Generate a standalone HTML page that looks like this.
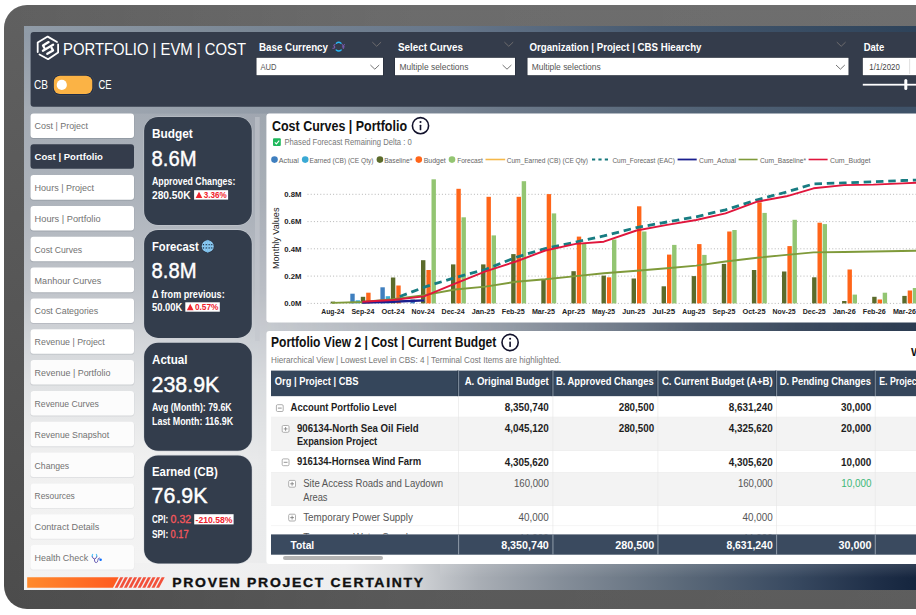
<!DOCTYPE html>
<html lang="en"><head><meta charset="utf-8"><title>Portfolio | EVM | Cost</title>
<style>
html,body{margin:0;padding:0;background:#fff;}
body{width:916px;height:615px;overflow:hidden;font-family:'Liberation Sans', sans-serif;}
svg{display:block;font-family:"Liberation Sans",sans-serif;}
</style></head><body>
<svg width="916" height="615" viewBox="0 0 916 615">
<defs>
<linearGradient id="frameG" x1="0" y1="0" x2="0" y2="1"><stop offset="0" stop-color="#606060"/><stop offset="0.5" stop-color="#565656"/><stop offset="1" stop-color="#4c4c4c"/></linearGradient>
<linearGradient id="frameH" gradientUnits="userSpaceOnUse" x1="4" y1="0" x2="916" y2="0"><stop offset="0" stop-color="#fff" stop-opacity="0"/><stop offset="0.45" stop-color="#fff" stop-opacity="0.075"/><stop offset="1" stop-color="#fff" stop-opacity="0.095"/></linearGradient>
<linearGradient id="bgV" x1="0" y1="0" x2="0" y2="1"><stop offset="0" stop-color="#8e99a6"/><stop offset="0.149" stop-color="#a4abb4"/><stop offset="0.309" stop-color="#aeb4bc"/><stop offset="0.468" stop-color="#c0c4ca"/><stop offset="0.557" stop-color="#d2d5d9"/><stop offset="0.628" stop-color="#dfe1e3"/><stop offset="0.699" stop-color="#e8e9ea"/><stop offset="0.77" stop-color="#f0f0f0"/><stop offset="1" stop-color="#f4f4f4"/></linearGradient>
<linearGradient id="bgR" x1="0" y1="0" x2="0" y2="1"><stop offset="0" stop-color="#34485d"/><stop offset="0.53" stop-color="#2b3b51"/><stop offset="1" stop-color="#15253e"/></linearGradient>
<linearGradient id="bgM" gradientUnits="userSpaceOnUse" x1="24" y1="0" x2="916" y2="0"><stop offset="0.14" stop-color="#fff" stop-opacity="0"/><stop offset="0.271" stop-color="#fff" stop-opacity="0.04"/><stop offset="0.444" stop-color="#fff" stop-opacity="0.2"/><stop offset="0.534" stop-color="#fff" stop-opacity="0.34"/><stop offset="0.664" stop-color="#fff" stop-opacity="0.56"/><stop offset="0.758" stop-color="#fff" stop-opacity="0.75"/><stop offset="0.87" stop-color="#fff" stop-opacity="0.9"/><stop offset="1" stop-color="#fff" stop-opacity="1"/></linearGradient>
<mask id="bgMask" maskUnits="userSpaceOnUse" x="24" y="26" width="900" height="564"><rect x="24" y="26" width="900" height="564" fill="url(#bgM)"/></mask>
<linearGradient id="band1" gradientUnits="userSpaceOnUse" x1="24" y1="0" x2="916" y2="0"><stop offset="0" stop-color="#919ca8"/><stop offset="0.253" stop-color="#7a8795"/><stop offset="0.484" stop-color="#66768a"/><stop offset="0.702" stop-color="#475a70"/><stop offset="1" stop-color="#2e435a"/></linearGradient>
<linearGradient id="band2" gradientUnits="userSpaceOnUse" x1="24" y1="0" x2="916" y2="0"><stop offset="0" stop-color="#a4abb4"/><stop offset="0.31" stop-color="#8f99a5"/><stop offset="0.534" stop-color="#6d7a8a"/><stop offset="0.758" stop-color="#526376"/><stop offset="0.98" stop-color="#3f5268"/></linearGradient>
<linearGradient id="band4" gradientUnits="userSpaceOnUse" x1="24" y1="0" x2="916" y2="0"><stop offset="0" stop-color="#f3f3f3"/><stop offset="0.36" stop-color="#eeeeef"/><stop offset="0.4215" stop-color="#dddee0"/><stop offset="0.455" stop-color="#c8cbcf"/><stop offset="0.51" stop-color="#a9aeb5"/><stop offset="0.602" stop-color="#858e99"/><stop offset="0.738" stop-color="#5b6979"/><stop offset="0.863" stop-color="#384960"/><stop offset="0.958" stop-color="#1e2e47"/><stop offset="1" stop-color="#15253e"/></linearGradient>
<linearGradient id="band4v" x1="0" y1="0" x2="0" y2="1"><stop offset="0" stop-color="#fff" stop-opacity="0.13"/><stop offset="0.55" stop-color="#fff" stop-opacity="0"/></linearGradient>
<linearGradient id="orangeG" x1="0" y1="0" x2="1" y2="0"><stop offset="0" stop-color="#ff8a2c"/><stop offset="1" stop-color="#ff5a20"/></linearGradient>
<clipPath id="screenClip"><rect x="24" y="26" width="900" height="564"/></clipPath>
<clipPath id="tblClip"><rect x="271" y="370" width="650" height="164.5"/></clipPath>
</defs>
<rect x="0" y="0" width="916" height="615" fill="#ffffff"/>
<rect x="4" y="5" width="960" height="604" rx="23" ry="23" fill="url(#frameG)"/>
<rect x="4" y="5" width="960" height="604" rx="23" ry="23" fill="url(#frameH)"/>
<rect x="24" y="26" width="900" height="564" fill="url(#bgV)"/>
<rect x="24" y="26" width="900" height="564" fill="url(#bgR)" mask="url(#bgMask)"/>
<rect x="24" y="26" width="900" height="6.5" fill="url(#band1)"/>
<rect x="24" y="106" width="900" height="7.6" fill="url(#band2)"/>
<rect x="24" y="563" width="900" height="27" fill="url(#band4)"/>
<rect x="440" y="563" width="500" height="27" fill="url(#band4v)"/>
<rect x="30.6" y="32" width="900" height="74.8" rx="3" fill="#343c4b"/>
<g fill="none" stroke="#fff" stroke-linejoin="round" stroke-linecap="round"><path d="M37.7 52 L37.7 42.6 L47.7 36.6 L57 42" stroke-width="1.8"/><path d="M58.1 44.4 L58.1 52.4 L48.1 59.2 L39.5 54.5" stroke-width="1.8"/><path d="M48.6 42.1 L43 45.5 L44.4 48" stroke-width="2.3"/><path d="M42.9 50.7 L53.1 44.7" stroke-width="2.3"/><path d="M47.3 53.8 L53 50.4 L51.6 47.9" stroke-width="2.3"/></g>
<text x="63.0" y="55.4" font-size="17.2" fill="#fff" textLength="183.0" lengthAdjust="spacingAndGlyphs">PORTFOLIO | EVM | COST</text>
<text x="34.0" y="89.4" font-size="12.2" fill="#fff" textLength="14.0" lengthAdjust="spacingAndGlyphs">CB</text>
<rect x="51.6" y="73.5" width="42.9" height="22.8" rx="8.6" fill="#3b4350"/>
<rect x="52.8" y="74.7" width="40.5" height="20.4" rx="7.2" fill="#1f2c47"/>
<rect x="53.8" y="75.7" width="38.5" height="18.4" rx="6.2" fill="#fbb345"/>
<circle cx="61.8" cy="84.9" r="5.1" fill="#fff"/>
<text x="98.4" y="89.4" font-size="12.2" fill="#fff" textLength="13.1" lengthAdjust="spacingAndGlyphs">CE</text>
<text x="259.0" y="51.4" font-size="11.5" fill="#fff" font-weight="bold" textLength="69.0" lengthAdjust="spacingAndGlyphs">Base Currency</text>
<g fill="none" stroke-linecap="round"><path d="M336.4 43.2 Q338.7 41.3 341 43.2" stroke="#29b6f6" stroke-width="1.4"/><path d="M336.2 50 Q338.7 52 341.2 50" stroke="#29b6f6" stroke-width="1.4"/><path d="M335 44.6 q-1.8 0.6 -0.8 1.6 q1.2 0.9 0 1.8 q-0.6 0.5 -1.4 0.2" stroke="#7a5bb0" stroke-width="1.1"/><path d="M342.2 44.4 l1.1 1.8 l1.1 -1.8 M343.3 46.2 v2.4 M342.3 46.9 h2" stroke="#7a5bb0" stroke-width="1"/></g>
<path d="M372.3 42.1 L376.7 46.3 L381.1 42.1" fill="none" stroke="#6e6c6e" stroke-width="1"/>
<rect x="255.9" y="57.2" width="127.7" height="18.6" fill="#262e3b"/>
<rect x="256.5" y="57.8" width="126.5" height="17.4" fill="#fff"/>
<text x="260.5" y="70.1" font-size="9" fill="#555" textLength="16.0" lengthAdjust="spacingAndGlyphs">AUD</text>
<path d="M370.4 65.0 L374.8 69.2 L379.2 65.0" fill="none" stroke="#757575" stroke-width="1"/>
<text x="398.0" y="51.4" font-size="11.5" fill="#fff" font-weight="bold" textLength="65.0" lengthAdjust="spacingAndGlyphs">Select Curves</text>
<path d="M504.4 42.1 L508.8 46.3 L513.2 42.1" fill="none" stroke="#6e6c6e" stroke-width="1"/>
<rect x="394.4" y="57.2" width="121.2" height="18.6" fill="#262e3b"/>
<rect x="395" y="57.8" width="120" height="17.4" fill="#fff"/>
<text x="399.5" y="70.1" font-size="9" fill="#555" textLength="69.0" lengthAdjust="spacingAndGlyphs">Multiple selections</text>
<path d="M502.6 65.0 L507.0 69.2 L511.4 65.0" fill="none" stroke="#757575" stroke-width="1"/>
<text x="529.5" y="51.4" font-size="11.5" fill="#fff" font-weight="bold" textLength="172.0" lengthAdjust="spacingAndGlyphs">Organization | Project | CBS Hiearchy</text>
<path d="M836.8 42.1 L841.2 46.3 L845.6 42.1" fill="none" stroke="#6e6c6e" stroke-width="1"/>
<rect x="526.9" y="57.2" width="322.2" height="18.6" fill="#262e3b"/>
<rect x="527.5" y="57.8" width="321" height="17.4" fill="#fff"/>
<text x="531.7" y="70.1" font-size="9" fill="#555" textLength="69.0" lengthAdjust="spacingAndGlyphs">Multiple selections</text>
<path d="M836.0 65.0 L840.4 69.2 L844.8 65.0" fill="none" stroke="#757575" stroke-width="1"/>
<text x="863.7" y="51.4" font-size="11.5" fill="#fff" font-weight="bold" textLength="20.5" lengthAdjust="spacingAndGlyphs">Date</text>
<rect x="862.2" y="57.2" width="61" height="18.6" fill="#262e3b"/>
<rect x="862.8" y="57.8" width="60" height="17.4" fill="#fff"/>
<rect x="909.3" y="59" width="0.8" height="15" fill="#d8d8d8"/>
<text x="869.3" y="70.1" font-size="9" fill="#444" textLength="30.5" lengthAdjust="spacingAndGlyphs">1/1/2020</text>
<rect x="862.8" y="83.8" width="60" height="1.8" fill="#fff"/>
<rect x="904.3" y="79" width="3" height="11" rx="1.5" fill="#fff"/>
<rect x="30.1" y="113.7" width="104.3" height="25.3" rx="3.4" fill="#5d6672" fill-opacity="0.27"/>
<rect x="30.5" y="113.4" width="103.5" height="24.6" rx="3" fill="#ffffff"/>
<text x="34.6" y="129.4" font-size="9.3" fill="#727272" textLength="53.4" lengthAdjust="spacingAndGlyphs">Cost | Project</text>
<rect x="30.5" y="144.2" width="103.5" height="24.6" rx="3" fill="#343c4b"/>
<text x="34.6" y="160.3" font-size="9.3" fill="#fff" font-weight="bold" textLength="68.3" lengthAdjust="spacingAndGlyphs">Cost | Portfolio</text>
<rect x="30.1" y="175.4" width="104.3" height="25.3" rx="3.4" fill="#5d6672" fill-opacity="0.24"/>
<rect x="30.5" y="175.1" width="103.5" height="24.6" rx="3" fill="#ffffff"/>
<text x="34.6" y="191.1" font-size="9.3" fill="#727272" textLength="59.5" lengthAdjust="spacingAndGlyphs">Hours | Project</text>
<rect x="30.1" y="206.2" width="104.3" height="25.3" rx="3.4" fill="#5d6672" fill-opacity="0.22"/>
<rect x="30.5" y="205.9" width="103.5" height="24.6" rx="3" fill="#ffffff"/>
<text x="34.6" y="221.9" font-size="9.3" fill="#727272" textLength="66.0" lengthAdjust="spacingAndGlyphs">Hours | Portfolio</text>
<rect x="30.1" y="237.0" width="104.3" height="25.3" rx="3.4" fill="#5d6672" fill-opacity="0.21"/>
<rect x="30.5" y="236.7" width="103.5" height="24.6" rx="3" fill="#ffffff"/>
<text x="34.6" y="252.7" font-size="9.3" fill="#727272" textLength="47.5" lengthAdjust="spacingAndGlyphs">Cost Curves</text>
<rect x="30.1" y="267.9" width="104.3" height="25.3" rx="3.4" fill="#5d6672" fill-opacity="0.19"/>
<rect x="30.5" y="267.6" width="103.5" height="24.6" rx="3" fill="#ffffff"/>
<text x="34.6" y="283.6" font-size="9.3" fill="#727272" textLength="66.7" lengthAdjust="spacingAndGlyphs">Manhour Curves</text>
<rect x="30.1" y="298.7" width="104.3" height="25.3" rx="3.4" fill="#5d6672" fill-opacity="0.18"/>
<rect x="30.5" y="298.4" width="103.5" height="24.6" rx="3" fill="#ffffff"/>
<text x="34.6" y="314.4" font-size="9.3" fill="#727272" textLength="63.6" lengthAdjust="spacingAndGlyphs">Cost Categories</text>
<rect x="30.1" y="329.5" width="104.3" height="25.3" rx="3.4" fill="#5d6672" fill-opacity="0.16"/>
<rect x="30.5" y="329.2" width="103.5" height="24.6" rx="3" fill="#ffffff"/>
<text x="34.6" y="345.2" font-size="9.3" fill="#727272" textLength="70.1" lengthAdjust="spacingAndGlyphs">Revenue | Project</text>
<rect x="30.1" y="360.3" width="104.3" height="25.3" rx="3.4" fill="#5d6672" fill-opacity="0.14"/>
<rect x="30.5" y="360.0" width="103.5" height="24.6" rx="3" fill="#fcfcfc"/>
<text x="34.6" y="376.1" font-size="9.3" fill="#727272" textLength="75.9" lengthAdjust="spacingAndGlyphs">Revenue | Portfolio</text>
<rect x="30.1" y="391.2" width="104.3" height="25.3" rx="3.4" fill="#5d6672" fill-opacity="0.13"/>
<rect x="30.5" y="390.9" width="103.5" height="24.6" rx="3" fill="#fcfcfc"/>
<text x="34.6" y="406.9" font-size="9.3" fill="#727272" textLength="64.3" lengthAdjust="spacingAndGlyphs">Revenue Curves</text>
<rect x="30.1" y="422.0" width="104.3" height="25.3" rx="3.4" fill="#5d6672" fill-opacity="0.11"/>
<rect x="30.5" y="421.7" width="103.5" height="24.6" rx="3" fill="#fcfcfc"/>
<text x="34.6" y="437.7" font-size="9.3" fill="#727272" textLength="74.5" lengthAdjust="spacingAndGlyphs">Revenue Snapshot</text>
<rect x="30.1" y="452.8" width="104.3" height="25.3" rx="3.4" fill="#5d6672" fill-opacity="0.10"/>
<rect x="30.5" y="452.5" width="103.5" height="24.6" rx="3" fill="#fcfcfc"/>
<text x="34.6" y="468.6" font-size="9.3" fill="#727272" textLength="34.6" lengthAdjust="spacingAndGlyphs">Changes</text>
<rect x="30.1" y="483.7" width="104.3" height="25.3" rx="3.4" fill="#5d6672" fill-opacity="0.08"/>
<rect x="30.5" y="483.4" width="103.5" height="24.6" rx="3" fill="#fcfcfc"/>
<text x="34.6" y="499.4" font-size="9.3" fill="#727272" textLength="40.2" lengthAdjust="spacingAndGlyphs">Resources</text>
<rect x="30.1" y="514.5" width="104.3" height="25.3" rx="3.4" fill="#5d6672" fill-opacity="0.07"/>
<rect x="30.5" y="514.2" width="103.5" height="24.6" rx="3" fill="#fcfcfc"/>
<text x="34.6" y="530.2" font-size="9.3" fill="#727272" textLength="64.8" lengthAdjust="spacingAndGlyphs">Contract Details</text>
<rect x="30.1" y="545.3" width="104.3" height="25.3" rx="3.4" fill="#5d6672" fill-opacity="0.05"/>
<rect x="30.5" y="545.0" width="103.5" height="24.6" rx="3" fill="#fcfcfc"/>
<text x="34.6" y="561.0" font-size="9.3" fill="#727272" textLength="53.5" lengthAdjust="spacingAndGlyphs">Health Check</text>
<g fill="none" stroke-linecap="round" stroke-linejoin="round"><path d="M92.6 554.5 Q91.9 555.6 92.3 556.8 M96.4 554.5 Q97.1 555.6 96.7 556.8" stroke="#4fc3f7" stroke-width="1.2"/><path d="M92.3 556.8 Q92.7 558.6 94.5 559.1 Q96.3 558.6 96.7 556.8 M94.5 559.1 L94.6 561 Q95 562.8 96.3 562.6 Q97.8 562.3 97.8 560.4 Q97.8 558 99.5 557.9" stroke="#6a5fb5" stroke-width="1"/></g><circle cx="100.6" cy="559.8" r="1.25" fill="#0a6cff"/>
<rect x="255" y="117" width="4.7" height="224" fill="#c3c7cd" fill-opacity="0.6"/>
<rect x="143.6" y="116.4" width="108.8" height="109.2" rx="14.6" fill="#cfd3d8" fill-opacity="0.75"/>
<rect x="144.1" y="117.0" width="107.7" height="108" rx="14" fill="#333d4c"/>
<text x="152.0" y="138.1" font-size="12.6" fill="#fff" font-weight="bold" textLength="40.8" lengthAdjust="spacingAndGlyphs">Budget</text>
<text x="151.6" y="166.0" font-size="22.4" fill="#fff" textLength="45.0" lengthAdjust="spacingAndGlyphs" stroke="#fff" stroke-width="0.45">8.6M</text>
<text x="152.0" y="185.0" font-size="10" fill="#fff" font-weight="bold" textLength="83.3" lengthAdjust="spacingAndGlyphs">Approved Changes:</text>
<text x="152.0" y="198.5" font-size="10.4" fill="#fff" font-weight="bold" textLength="38.6" lengthAdjust="spacingAndGlyphs">280.50K</text>
<rect x="194.1" y="190.2" width="34.0" height="9.4" fill="#fff"/>
<path d="M195.7 198.1 L199.0 191.7 L202.3 198.1 Z" fill="#f0222c"/>
<text x="203.7" y="198.3" font-size="9.2" fill="#f0222c" font-weight="bold" textLength="23.0" lengthAdjust="spacingAndGlyphs">3.36%</text>
<rect x="143.6" y="229.3" width="108.8" height="109.2" rx="14.6" fill="#cfd3d8" fill-opacity="0.75"/>
<rect x="144.1" y="229.9" width="107.7" height="108" rx="14" fill="#333d4c"/>
<text x="152.0" y="251.0" font-size="12.6" fill="#fff" font-weight="bold" textLength="46.8" lengthAdjust="spacingAndGlyphs">Forecast</text>
<g><circle cx="207.7" cy="246.3" r="6.5" fill="#2b3240"/><circle cx="207.7" cy="246.3" r="6" fill="#8ecbf2"/><ellipse cx="207.7" cy="246.3" rx="2.9" ry="6" fill="none" stroke="#6fb4e4" stroke-width="0.7"/><path d="M207.7 240.3 v12 M202 244.7 h11.4 M202 248.0 h11.4" stroke="#6fb4e4" stroke-width="0.7"/><circle cx="203.40" cy="244.65" r="0.62" fill="#141c2b"/><circle cx="203.40" cy="247.95" r="0.62" fill="#141c2b"/><circle cx="206.25" cy="244.65" r="0.62" fill="#141c2b"/><circle cx="206.25" cy="247.95" r="0.62" fill="#141c2b"/><circle cx="209.15" cy="244.65" r="0.62" fill="#141c2b"/><circle cx="209.15" cy="247.95" r="0.62" fill="#141c2b"/><circle cx="211.80" cy="244.65" r="0.62" fill="#141c2b"/><circle cx="211.80" cy="247.95" r="0.62" fill="#141c2b"/></g>
<text x="151.6" y="278.4" font-size="22.4" fill="#fff" textLength="45.0" lengthAdjust="spacingAndGlyphs" stroke="#fff" stroke-width="0.45">8.8M</text>
<text x="152.0" y="297.5" font-size="10" fill="#fff" font-weight="bold" textLength="72.7" lengthAdjust="spacingAndGlyphs">Δ from previous:</text>
<text x="152.0" y="310.7" font-size="10.4" fill="#fff" font-weight="bold" textLength="30.2" lengthAdjust="spacingAndGlyphs">50.00K</text>
<rect x="185.3" y="302.3" width="34.5" height="9.4" fill="#fff"/>
<path d="M186.9 310.2 L190.2 303.8 L193.5 310.2 Z" fill="#f0222c"/>
<text x="194.9" y="310.4" font-size="9.2" fill="#f0222c" font-weight="bold" textLength="23.5" lengthAdjust="spacingAndGlyphs">0.57%</text>
<rect x="143.6" y="342.2" width="108.8" height="109.2" rx="14.6" fill="#cfd3d8" fill-opacity="0.75"/>
<rect x="144.1" y="342.8" width="107.7" height="108" rx="14" fill="#333d4c"/>
<text x="152.0" y="363.9" font-size="12.6" fill="#fff" font-weight="bold" textLength="35.5" lengthAdjust="spacingAndGlyphs">Actual</text>
<text x="151.6" y="391.5" font-size="22.4" fill="#fff" textLength="67.7" lengthAdjust="spacingAndGlyphs" stroke="#fff" stroke-width="0.45">238.9K</text>
<text x="152.0" y="410.7" font-size="10" fill="#fff" font-weight="bold" textLength="79.6" lengthAdjust="spacingAndGlyphs">Avg (Month): 79.6K</text>
<text x="152.0" y="425.0" font-size="10" fill="#fff" font-weight="bold" textLength="81.1" lengthAdjust="spacingAndGlyphs">Last Month: 116.9K</text>
<rect x="143.6" y="454.8" width="108.8" height="109.2" rx="14.6" fill="#cfd3d8" fill-opacity="0.75"/>
<rect x="144.1" y="455.4" width="107.7" height="108" rx="14" fill="#333d4c"/>
<text x="152.0" y="476.3" font-size="12.6" fill="#fff" font-weight="bold" textLength="65.7" lengthAdjust="spacingAndGlyphs">Earned (CB)</text>
<text x="151.6" y="503.4" font-size="22.4" fill="#fff" textLength="55.9" lengthAdjust="spacingAndGlyphs" stroke="#fff" stroke-width="0.45">76.9K</text>
<text x="152.0" y="523.1" font-size="10" fill="#fff" font-weight="bold" textLength="16.2" lengthAdjust="spacingAndGlyphs">CPI:</text>
<text x="170.6" y="523.3" font-size="10.6" fill="#f7575c" textLength="20.5" lengthAdjust="spacingAndGlyphs" stroke="#f7575c" stroke-width="0.3">0.32</text>
<rect x="194.2" y="514.2" width="39.4" height="10.2" fill="#fff"/>
<text x="195.6" y="522.9" font-size="9.2" fill="#f0222c" font-weight="bold" textLength="36.8" lengthAdjust="spacingAndGlyphs">-210.58%</text>
<text x="152.0" y="537.9" font-size="10" fill="#fff" font-weight="bold" textLength="16.2" lengthAdjust="spacingAndGlyphs">SPI:</text>
<text x="170.6" y="538.1" font-size="10.6" fill="#f7575c" textLength="17.9" lengthAdjust="spacingAndGlyphs" stroke="#f7575c" stroke-width="0.3">0.17</text>
<rect x="266.4" y="113.6" width="700" height="209" rx="3" fill="#fff"/>
<text x="272.0" y="131.2" font-size="15" fill="#111" font-weight="bold" textLength="135.0" lengthAdjust="spacingAndGlyphs">Cost Curves | Portfolio</text>
<circle cx="420.5" cy="125.7" r="8.1" fill="#fff" stroke="#12122c" stroke-width="1.6"/>
<rect x="419.7" y="124.7" width="1.6" height="5.6" rx="0.6" fill="#12122c"/><circle cx="420.5" cy="122" r="1.05" fill="#12122c"/>
<rect x="273" y="138.3" width="7.8" height="7.8" rx="1" fill="#1fb85c"/>
<path d="M274.8 142.3 l1.6 1.6 l2.8 -3.2" fill="none" stroke="#fff" stroke-width="1.1"/>
<text x="284.5" y="145.3" font-size="8.2" fill="#777" textLength="127.2" lengthAdjust="spacingAndGlyphs">Phased Forecast Remaining Delta : 0</text>
<circle cx="274.5" cy="159.6" r="3.3" fill="#3f7fbf"/>
<text x="278.8" y="162.6" font-size="7.8" fill="#666" textLength="20.0" lengthAdjust="spacingAndGlyphs">Actual</text>
<circle cx="305.2" cy="159.6" r="3.3" fill="#3aa9d4"/>
<text x="309.5" y="162.6" font-size="7.8" fill="#666" textLength="64.0" lengthAdjust="spacingAndGlyphs">Earned (CB) (CE Qty)</text>
<circle cx="379.9" cy="159.6" r="3.3" fill="#5b6b2b"/>
<text x="384.2" y="162.6" font-size="7.8" fill="#666" textLength="28.1" lengthAdjust="spacingAndGlyphs">Baseline*</text>
<circle cx="418.8" cy="159.6" r="3.3" fill="#ff6519"/>
<text x="423.7" y="162.6" font-size="7.8" fill="#666" textLength="22.1" lengthAdjust="spacingAndGlyphs">Budget</text>
<circle cx="452.0" cy="159.6" r="3.3" fill="#93c572"/>
<text x="457.2" y="162.6" font-size="7.8" fill="#666" textLength="25.6" lengthAdjust="spacingAndGlyphs">Forecast</text>
<path d="M485.5 159.5 H505.2" stroke="#f5b84a" stroke-width="1.6"/>
<text x="506.7" y="162.6" font-size="7.8" fill="#666" textLength="81.3" lengthAdjust="spacingAndGlyphs">Cum_Earned (CB) (CE Qty)</text>
<path d="M592.0 159.5 H609.5" stroke="#17787c" stroke-width="1.8" stroke-dasharray="3.2 3.2"/>
<text x="612.4" y="162.6" font-size="7.8" fill="#666" textLength="62.6" lengthAdjust="spacingAndGlyphs">Cum_Forecast (EAC)</text>
<path d="M677.6 159.5 H696.7" stroke="#1a1f8f" stroke-width="1.8"/>
<text x="699.0" y="162.6" font-size="7.8" fill="#666" textLength="37.0" lengthAdjust="spacingAndGlyphs">Cum_Actual</text>
<path d="M738.6 159.5 H757.6" stroke="#7f9a3a" stroke-width="1.6"/>
<text x="760.0" y="162.6" font-size="7.8" fill="#666" textLength="46.0" lengthAdjust="spacingAndGlyphs">Cum_Baseline*</text>
<path d="M808.6 159.5 H827.6" stroke="#e0163c" stroke-width="1.6"/>
<text x="830.0" y="162.6" font-size="7.8" fill="#666" textLength="40.5" lengthAdjust="spacingAndGlyphs">Cum_Budget</text>
<path d="M307.5 303.4 H920" stroke="#b5b5b5" stroke-width="1" stroke-dasharray="1 2.2"/>
<text x="301.4" y="306.2" font-size="7.8" fill="#222" font-weight="bold" text-anchor="end" textLength="17.2" lengthAdjust="spacingAndGlyphs">0.0M</text>
<path d="M307.5 276.1 H920" stroke="#b5b5b5" stroke-width="1" stroke-dasharray="1 2.2"/>
<text x="301.4" y="278.9" font-size="7.8" fill="#222" font-weight="bold" text-anchor="end" textLength="17.2" lengthAdjust="spacingAndGlyphs">0.2M</text>
<path d="M307.5 248.8 H920" stroke="#b5b5b5" stroke-width="1" stroke-dasharray="1 2.2"/>
<text x="301.4" y="251.6" font-size="7.8" fill="#222" font-weight="bold" text-anchor="end" textLength="17.2" lengthAdjust="spacingAndGlyphs">0.4M</text>
<path d="M307.5 221.6 H920" stroke="#b5b5b5" stroke-width="1" stroke-dasharray="1 2.2"/>
<text x="301.4" y="224.4" font-size="7.8" fill="#222" font-weight="bold" text-anchor="end" textLength="17.2" lengthAdjust="spacingAndGlyphs">0.6M</text>
<path d="M307.5 194.3 H920" stroke="#b5b5b5" stroke-width="1" stroke-dasharray="1 2.2"/>
<text x="301.4" y="197.1" font-size="7.8" fill="#222" font-weight="bold" text-anchor="end" textLength="17.2" lengthAdjust="spacingAndGlyphs">0.8M</text>
<text transform="translate(279.2 238.3) rotate(-90)" text-anchor="middle" font-size="8.7" fill="#222" textLength="61.5" lengthAdjust="spacingAndGlyphs">Monthly Values</text>
<text x="332.8" y="313.5" font-size="7.5" fill="#222" font-weight="bold" text-anchor="middle" textLength="23.0" lengthAdjust="spacingAndGlyphs">Aug-24</text>
<text x="362.9" y="313.5" font-size="7.5" fill="#222" font-weight="bold" text-anchor="middle" textLength="23.0" lengthAdjust="spacingAndGlyphs">Sep-24</text>
<text x="393.0" y="313.5" font-size="7.5" fill="#222" font-weight="bold" text-anchor="middle" textLength="23.0" lengthAdjust="spacingAndGlyphs">Oct-24</text>
<text x="423.1" y="313.5" font-size="7.5" fill="#222" font-weight="bold" text-anchor="middle" textLength="23.0" lengthAdjust="spacingAndGlyphs">Nov-24</text>
<text x="453.1" y="313.5" font-size="7.5" fill="#222" font-weight="bold" text-anchor="middle" textLength="23.0" lengthAdjust="spacingAndGlyphs">Dec-24</text>
<text x="483.2" y="313.5" font-size="7.5" fill="#222" font-weight="bold" text-anchor="middle" textLength="23.0" lengthAdjust="spacingAndGlyphs">Jan-25</text>
<text x="513.3" y="313.5" font-size="7.5" fill="#222" font-weight="bold" text-anchor="middle" textLength="23.0" lengthAdjust="spacingAndGlyphs">Feb-25</text>
<text x="543.4" y="313.5" font-size="7.5" fill="#222" font-weight="bold" text-anchor="middle" textLength="23.0" lengthAdjust="spacingAndGlyphs">Mar-25</text>
<text x="573.5" y="313.5" font-size="7.5" fill="#222" font-weight="bold" text-anchor="middle" textLength="23.0" lengthAdjust="spacingAndGlyphs">Apr-25</text>
<text x="603.6" y="313.5" font-size="7.5" fill="#222" font-weight="bold" text-anchor="middle" textLength="23.0" lengthAdjust="spacingAndGlyphs">May-25</text>
<text x="633.7" y="313.5" font-size="7.5" fill="#222" font-weight="bold" text-anchor="middle" textLength="23.0" lengthAdjust="spacingAndGlyphs">Jun-25</text>
<text x="663.7" y="313.5" font-size="7.5" fill="#222" font-weight="bold" text-anchor="middle" textLength="23.0" lengthAdjust="spacingAndGlyphs">Jul-25</text>
<text x="693.8" y="313.5" font-size="7.5" fill="#222" font-weight="bold" text-anchor="middle" textLength="23.0" lengthAdjust="spacingAndGlyphs">Aug-25</text>
<text x="723.9" y="313.5" font-size="7.5" fill="#222" font-weight="bold" text-anchor="middle" textLength="23.0" lengthAdjust="spacingAndGlyphs">Sep-25</text>
<text x="754.0" y="313.5" font-size="7.5" fill="#222" font-weight="bold" text-anchor="middle" textLength="23.0" lengthAdjust="spacingAndGlyphs">Oct-25</text>
<text x="784.1" y="313.5" font-size="7.5" fill="#222" font-weight="bold" text-anchor="middle" textLength="23.0" lengthAdjust="spacingAndGlyphs">Nov-25</text>
<text x="814.2" y="313.5" font-size="7.5" fill="#222" font-weight="bold" text-anchor="middle" textLength="23.0" lengthAdjust="spacingAndGlyphs">Dec-25</text>
<text x="844.2" y="313.5" font-size="7.5" fill="#222" font-weight="bold" text-anchor="middle" textLength="23.0" lengthAdjust="spacingAndGlyphs">Jan-26</text>
<text x="874.3" y="313.5" font-size="7.5" fill="#222" font-weight="bold" text-anchor="middle" textLength="23.0" lengthAdjust="spacingAndGlyphs">Feb-26</text>
<text x="904.4" y="313.5" font-size="7.5" fill="#222" font-weight="bold" text-anchor="middle" textLength="23.0" lengthAdjust="spacingAndGlyphs">Mar-26</text>
<rect x="330.7" y="301.6" width="4.4" height="1.8" fill="#5b6b2b"/>
<rect x="350.3" y="293.7" width="4.4" height="9.7" fill="#3f7fbf"/>
<rect x="355.6" y="300.3" width="4.4" height="3.1" fill="#3aa9d4"/>
<rect x="360.8" y="296.8" width="4.4" height="6.6" fill="#5b6b2b"/>
<rect x="366.2" y="292.7" width="4.4" height="10.7" fill="#ff6519"/>
<rect x="380.4" y="287.3" width="4.4" height="16.1" fill="#3f7fbf"/>
<rect x="385.7" y="296.2" width="4.4" height="7.2" fill="#3aa9d4"/>
<rect x="390.9" y="277.5" width="4.4" height="25.9" fill="#5b6b2b"/>
<rect x="396.3" y="285.5" width="4.4" height="17.9" fill="#ff6519"/>
<rect x="410.5" y="299.5" width="4.4" height="3.9" fill="#3f7fbf"/>
<rect x="421.0" y="260.2" width="4.4" height="43.2" fill="#5b6b2b"/>
<rect x="426.4" y="270.0" width="4.4" height="33.4" fill="#ff6519"/>
<rect x="431.5" y="179.3" width="4.4" height="124.1" fill="#93c572"/>
<rect x="451.0" y="264.4" width="4.4" height="39.0" fill="#5b6b2b"/>
<rect x="456.4" y="188.8" width="4.4" height="114.6" fill="#ff6519"/>
<rect x="461.5" y="217.3" width="4.4" height="86.1" fill="#93c572"/>
<rect x="481.1" y="264.4" width="4.4" height="39.0" fill="#5b6b2b"/>
<rect x="486.5" y="196.8" width="4.4" height="106.6" fill="#ff6519"/>
<rect x="491.6" y="235.4" width="4.4" height="68.0" fill="#93c572"/>
<rect x="511.2" y="254.1" width="4.4" height="49.3" fill="#5b6b2b"/>
<rect x="516.6" y="196.8" width="4.4" height="106.6" fill="#ff6519"/>
<rect x="521.7" y="181.2" width="4.4" height="122.2" fill="#93c572"/>
<rect x="541.3" y="279.8" width="4.4" height="23.6" fill="#5b6b2b"/>
<rect x="546.7" y="194.1" width="4.4" height="109.3" fill="#ff6519"/>
<rect x="551.8" y="213.4" width="4.4" height="90.0" fill="#93c572"/>
<rect x="571.4" y="271.2" width="4.4" height="32.2" fill="#5b6b2b"/>
<rect x="576.8" y="236.6" width="4.4" height="66.8" fill="#ff6519"/>
<rect x="581.9" y="243.2" width="4.4" height="60.2" fill="#93c572"/>
<rect x="601.5" y="275.6" width="4.4" height="27.8" fill="#5b6b2b"/>
<rect x="606.9" y="277.3" width="4.4" height="26.1" fill="#ff6519"/>
<rect x="612.0" y="239.5" width="4.4" height="63.9" fill="#93c572"/>
<rect x="631.6" y="278.5" width="4.4" height="24.9" fill="#5b6b2b"/>
<rect x="637.0" y="206.3" width="4.4" height="97.1" fill="#ff6519"/>
<rect x="642.1" y="231.5" width="4.4" height="71.9" fill="#93c572"/>
<rect x="661.6" y="286.3" width="4.4" height="17.1" fill="#5b6b2b"/>
<rect x="667.0" y="254.6" width="4.4" height="48.8" fill="#ff6519"/>
<rect x="672.1" y="244.9" width="4.4" height="58.5" fill="#93c572"/>
<rect x="691.7" y="276.1" width="4.4" height="27.3" fill="#5b6b2b"/>
<rect x="697.1" y="244.1" width="4.4" height="59.3" fill="#ff6519"/>
<rect x="702.2" y="254.9" width="4.4" height="48.5" fill="#93c572"/>
<rect x="721.8" y="263.9" width="4.4" height="39.5" fill="#5b6b2b"/>
<rect x="727.2" y="231.5" width="4.4" height="71.9" fill="#ff6519"/>
<rect x="732.3" y="230.0" width="4.4" height="73.4" fill="#93c572"/>
<rect x="751.9" y="270.0" width="4.4" height="33.4" fill="#5b6b2b"/>
<rect x="757.3" y="202.4" width="4.4" height="101.0" fill="#ff6519"/>
<rect x="762.4" y="212.9" width="4.4" height="90.5" fill="#93c572"/>
<rect x="782.0" y="271.5" width="4.4" height="31.9" fill="#5b6b2b"/>
<rect x="787.4" y="246.1" width="4.4" height="57.3" fill="#ff6519"/>
<rect x="792.5" y="219.8" width="4.4" height="83.6" fill="#93c572"/>
<rect x="812.1" y="277.3" width="4.4" height="26.1" fill="#5b6b2b"/>
<rect x="817.5" y="222.7" width="4.4" height="80.7" fill="#ff6519"/>
<rect x="822.6" y="224.1" width="4.4" height="79.3" fill="#93c572"/>
<rect x="842.1" y="301.0" width="4.4" height="2.4" fill="#5b6b2b"/>
<rect x="847.5" y="269.5" width="4.4" height="33.9" fill="#ff6519"/>
<rect x="852.6" y="294.6" width="4.4" height="8.8" fill="#93c572"/>
<rect x="872.2" y="296.8" width="4.4" height="6.6" fill="#5b6b2b"/>
<rect x="877.6" y="299.5" width="4.4" height="3.9" fill="#ff6519"/>
<rect x="882.7" y="292.7" width="4.4" height="10.7" fill="#93c572"/>
<rect x="902.3" y="295.9" width="4.4" height="7.5" fill="#5b6b2b"/>
<rect x="907.7" y="290.5" width="4.4" height="12.9" fill="#ff6519"/>
<rect x="912.8" y="288.0" width="4.4" height="15.4" fill="#93c572"/>
<polyline points="331.9,302.9 362.5,302.0 392.8,299.3 424.5,295.1 455.0,289.5 485.5,286.6 516.0,281.7 545.3,279.3 575.8,276.1 603.8,273.2 636.5,270.7 667.0,268.3 696.2,265.6 725.5,261.5 757.2,257.8 786.5,254.9 813.6,252.4 844.0,252.0 873.3,251.5 920.0,250.6" fill="none" stroke="#7f9a3a" stroke-width="1.9" stroke-linejoin="round"/>
<polyline points="362.3,302.2 392.8,301.2 424.5,300.2" fill="none" stroke="#f5b84a" stroke-width="1.4" stroke-linejoin="round"/>
<polyline points="362.3,302.6 392.8,301.8 424.5,300.4" fill="none" stroke="#1a1f8f" stroke-width="2.4" stroke-linejoin="round"/>
<polyline points="399.8,296.5 425.8,286.6 456.2,277.3 485.5,269.5 516.0,257.3 545.3,248.5 575.8,242.0 603.8,235.9 636.5,227.6 667.0,222.0 696.2,216.8 725.5,209.8 757.2,199.8 786.5,192.0 813.6,183.9 844.0,182.9 873.3,181.7 902.6,180.5 920.0,179.9" fill="none" stroke="#187c82" stroke-width="2.8" stroke-linejoin="round" stroke-dasharray="7.5 4.8"/>
<polyline points="362.3,301.7 392.8,300.0 424.0,296.4 455.0,283.6 485.5,271.4 516.0,261.5 545.3,250.5 575.8,243.9 603.8,241.7 636.5,230.5 667.0,224.9 696.2,220.0 725.5,213.4 757.2,201.7 786.5,196.3 813.6,188.3 844.0,185.1 873.3,184.6 902.6,183.4 920.0,182.6" fill="none" stroke="#e0163c" stroke-width="1.9" stroke-linejoin="round"/>
<rect x="266.4" y="331" width="700" height="233.1" rx="3" fill="#fff"/>
<text x="271.0" y="347.1" font-size="14.2" fill="#111" font-weight="bold" textLength="225.2" lengthAdjust="spacingAndGlyphs">Portfolio View 2 | Cost | Current Budget</text>
<circle cx="510.1" cy="342.5" r="8.1" fill="#fff" stroke="#12122c" stroke-width="1.6"/>
<rect x="509.3" y="341.5" width="1.6" height="5.6" rx="0.6" fill="#12122c"/><circle cx="510.1" cy="338.8" r="1.05" fill="#12122c"/>
<text x="271.0" y="362.9" font-size="8.6" fill="#777" textLength="290.0" lengthAdjust="spacingAndGlyphs">Hierarchical View | Lowest Level in CBS: 4 | Terminal Cost Items are highlighted.</text>
<text x="911.1" y="356.1" font-size="11.5" fill="#111" font-weight="bold">W</text>
<rect x="271" y="370.6" width="660" height="25.8" fill="#35465b"/>
<rect x="457.1" y="370.6" width="1.1" height="25.8" fill="#2b3a4d"/>
<rect x="458.2" y="370.6" width="0.9" height="25.8" fill="#8b97a6"/>
<rect x="551.4" y="370.6" width="1.1" height="25.8" fill="#2b3a4d"/>
<rect x="552.5" y="370.6" width="0.9" height="25.8" fill="#8b97a6"/>
<rect x="656.4" y="370.6" width="1.1" height="25.8" fill="#2b3a4d"/>
<rect x="657.5" y="370.6" width="0.9" height="25.8" fill="#8b97a6"/>
<rect x="775.1" y="370.6" width="1.1" height="25.8" fill="#2b3a4d"/>
<rect x="776.2" y="370.6" width="0.9" height="25.8" fill="#8b97a6"/>
<rect x="873.7" y="370.6" width="1.1" height="25.8" fill="#2b3a4d"/>
<rect x="874.8" y="370.6" width="0.9" height="25.8" fill="#8b97a6"/>
<text x="274.8" y="385.4" font-size="10.6" fill="#fff" font-weight="bold" textLength="83.6" lengthAdjust="spacingAndGlyphs">Org | Project | CBS</text>
<text x="548.7" y="385.4" font-size="10.6" fill="#fff" font-weight="bold" text-anchor="end" textLength="84.0" lengthAdjust="spacingAndGlyphs">A. Original Budget</text>
<text x="653.7" y="385.4" font-size="10.6" fill="#fff" font-weight="bold" text-anchor="end" textLength="97.8" lengthAdjust="spacingAndGlyphs">B. Approved Changes</text>
<text x="772.6" y="385.4" font-size="10.6" fill="#fff" font-weight="bold" text-anchor="end" textLength="110.7" lengthAdjust="spacingAndGlyphs">C. Current Budget (A+B)</text>
<text x="870.9" y="385.4" font-size="10.6" fill="#fff" font-weight="bold" text-anchor="end" textLength="91.2" lengthAdjust="spacingAndGlyphs">D. Pending Changes</text>
<text x="879.2" y="385.4" font-size="10.6" fill="#fff" font-weight="bold" textLength="50.6" lengthAdjust="spacingAndGlyphs">E. Projected</text>
<g clip-path="url(#tblClip)">
<rect x="271" y="396.4" width="660" height="20.9" fill="#fff"/>
<rect x="271" y="416.8" width="660" height="0.8" fill="#e9e9e9"/>
<rect x="271" y="417.3" width="660" height="33.6" fill="#f3f3f3"/>
<rect x="271" y="450.4" width="660" height="0.8" fill="#e9e9e9"/>
<rect x="271" y="450.9" width="660" height="21.6" fill="#fff"/>
<rect x="271" y="472.0" width="660" height="0.8" fill="#e9e9e9"/>
<rect x="271" y="472.5" width="660" height="33.2" fill="#f3f3f3"/>
<rect x="271" y="505.2" width="660" height="0.8" fill="#e9e9e9"/>
<rect x="271" y="505.7" width="660" height="20.4" fill="#fff"/>
<rect x="271" y="525.6" width="660" height="0.8" fill="#e9e9e9"/>
<rect x="271" y="526.1" width="660" height="21.9" fill="#fff"/>
<rect x="271" y="547.5" width="660" height="0.8" fill="#e9e9e9"/>
<rect x="458.2" y="396.4" width="0.8" height="140" fill="#e6e6e6" fill-opacity="0.8"/>
<rect x="552.5" y="396.4" width="0.8" height="140" fill="#e6e6e6" fill-opacity="0.8"/>
<rect x="657.5" y="396.4" width="0.8" height="140" fill="#e6e6e6" fill-opacity="0.8"/>
<rect x="776.2" y="396.4" width="0.8" height="140" fill="#e6e6e6" fill-opacity="0.8"/>
<rect x="874.8" y="396.4" width="0.8" height="140" fill="#e6e6e6" fill-opacity="0.8"/>
<rect x="276.4" y="404.7" width="6.8" height="6.8" rx="1.2" fill="#fff" stroke="#9a9a9a" stroke-width="0.8"/>
<path d="M277.9 408.1 h3.8" stroke="#777" stroke-width="0.8"/>
<text x="290.6" y="411.2" font-size="10" fill="#1e1e1e" font-weight="bold" textLength="106.0" lengthAdjust="spacingAndGlyphs">Account Portfolio Level</text>
<text x="548.8" y="411.2" font-size="10.2" fill="#1e1e1e" font-weight="bold" text-anchor="end" textLength="44.0" lengthAdjust="spacingAndGlyphs">8,350,740</text>
<text x="654.2" y="411.2" font-size="10.2" fill="#1e1e1e" font-weight="bold" text-anchor="end" textLength="35.5" lengthAdjust="spacingAndGlyphs">280,500</text>
<text x="772.7" y="411.2" font-size="10.2" fill="#1e1e1e" font-weight="bold" text-anchor="end" textLength="44.0" lengthAdjust="spacingAndGlyphs">8,631,240</text>
<text x="871.4" y="411.2" font-size="10.2" fill="#1e1e1e" font-weight="bold" text-anchor="end" textLength="30.3" lengthAdjust="spacingAndGlyphs">30,000</text>
<rect x="282.2" y="425.5" width="6.8" height="6.8" rx="1.2" fill="#fff" stroke="#9a9a9a" stroke-width="0.8"/>
<path d="M283.7 428.9 h3.8" stroke="#777" stroke-width="0.8"/>
<path d="M285.6 427.0 v3.8" stroke="#777" stroke-width="0.8"/>
<text x="296.9" y="431.9" font-size="10" fill="#1e1e1e" font-weight="bold" textLength="121.8" lengthAdjust="spacingAndGlyphs">906134-North Sea Oil Field</text>
<text x="296.9" y="445.2" font-size="10" fill="#1e1e1e" font-weight="bold" textLength="80.3" lengthAdjust="spacingAndGlyphs">Expansion Project</text>
<text x="548.8" y="432.0" font-size="10.2" fill="#1e1e1e" font-weight="bold" text-anchor="end" textLength="44.0" lengthAdjust="spacingAndGlyphs">4,045,120</text>
<text x="654.2" y="432.0" font-size="10.2" fill="#1e1e1e" font-weight="bold" text-anchor="end" textLength="35.5" lengthAdjust="spacingAndGlyphs">280,500</text>
<text x="772.7" y="432.0" font-size="10.2" fill="#1e1e1e" font-weight="bold" text-anchor="end" textLength="44.0" lengthAdjust="spacingAndGlyphs">4,325,620</text>
<text x="871.4" y="432.0" font-size="10.2" fill="#1e1e1e" font-weight="bold" text-anchor="end" textLength="30.3" lengthAdjust="spacingAndGlyphs">20,000</text>
<rect x="282.2" y="458.9" width="6.8" height="6.8" rx="1.2" fill="#fff" stroke="#9a9a9a" stroke-width="0.8"/>
<path d="M283.7 462.3 h3.8" stroke="#777" stroke-width="0.8"/>
<text x="296.9" y="465.4" font-size="10" fill="#1e1e1e" font-weight="bold" textLength="124.3" lengthAdjust="spacingAndGlyphs">916134-Hornsea Wind Farm</text>
<text x="548.8" y="465.5" font-size="10.2" fill="#1e1e1e" font-weight="bold" text-anchor="end" textLength="44.0" lengthAdjust="spacingAndGlyphs">4,305,620</text>
<text x="772.7" y="465.5" font-size="10.2" fill="#1e1e1e" font-weight="bold" text-anchor="end" textLength="44.0" lengthAdjust="spacingAndGlyphs">4,305,620</text>
<text x="871.4" y="465.5" font-size="10.2" fill="#1e1e1e" font-weight="bold" text-anchor="end" textLength="30.3" lengthAdjust="spacingAndGlyphs">10,000</text>
<rect x="288.7" y="480.4" width="6.8" height="6.8" rx="1.2" fill="#fff" stroke="#9a9a9a" stroke-width="0.8"/>
<path d="M290.2 483.8 h3.8" stroke="#777" stroke-width="0.8"/>
<path d="M292.1 481.9 v3.8" stroke="#777" stroke-width="0.8"/>
<text x="303.2" y="486.9" font-size="10" fill="#555" textLength="139.8" lengthAdjust="spacingAndGlyphs">Site Access Roads and Laydown</text>
<text x="303.2" y="500.5" font-size="10" fill="#555" textLength="24.3" lengthAdjust="spacingAndGlyphs">Areas</text>
<text x="548.8" y="487.0" font-size="10.2" fill="#555" text-anchor="end" textLength="34.8" lengthAdjust="spacingAndGlyphs">160,000</text>
<text x="772.7" y="487.0" font-size="10.2" fill="#555" text-anchor="end" textLength="34.8" lengthAdjust="spacingAndGlyphs">160,000</text>
<text x="871.4" y="487.0" font-size="10.2" fill="#3cb878" text-anchor="end" textLength="30.2" lengthAdjust="spacingAndGlyphs">10,000</text>
<rect x="288.7" y="514.2" width="6.8" height="6.8" rx="1.2" fill="#fff" stroke="#9a9a9a" stroke-width="0.8"/>
<path d="M290.2 517.6 h3.8" stroke="#777" stroke-width="0.8"/>
<path d="M292.1 515.7 v3.8" stroke="#777" stroke-width="0.8"/>
<text x="303.2" y="520.8" font-size="10" fill="#555" textLength="109.7" lengthAdjust="spacingAndGlyphs">Temporary Power Supply</text>
<text x="548.8" y="520.9" font-size="10.2" fill="#555" text-anchor="end" textLength="30.2" lengthAdjust="spacingAndGlyphs">40,000</text>
<text x="772.7" y="520.9" font-size="10.2" fill="#555" text-anchor="end" textLength="30.2" lengthAdjust="spacingAndGlyphs">40,000</text>
<text x="303.2" y="541.4" font-size="10" fill="#555" textLength="109.7" lengthAdjust="spacingAndGlyphs">Temporary Water Supply</text>
<text x="548.8" y="541.5" font-size="10.2" fill="#555" text-anchor="end" textLength="30.2" lengthAdjust="spacingAndGlyphs">44,000</text>
<text x="772.7" y="541.5" font-size="10.2" fill="#555" text-anchor="end" textLength="30.2" lengthAdjust="spacingAndGlyphs">44,000</text>
</g>
<rect x="271" y="534.4" width="660" height="20.3" fill="#3a4a5f"/>
<rect x="458.2" y="534.4" width="0.9" height="20.3" fill="#9aa5b2"/>
<rect x="552.5" y="534.4" width="0.9" height="20.3" fill="#9aa5b2"/>
<rect x="657.5" y="534.4" width="0.9" height="20.3" fill="#9aa5b2"/>
<rect x="776.2" y="534.4" width="0.9" height="20.3" fill="#9aa5b2"/>
<rect x="874.8" y="534.4" width="0.9" height="20.3" fill="#9aa5b2"/>
<text x="290.6" y="548.7" font-size="11" fill="#fff" font-weight="bold" textLength="23.6" lengthAdjust="spacingAndGlyphs">Total</text>
<text x="548.8" y="548.7" font-size="10.8" fill="#fff" font-weight="bold" text-anchor="end" textLength="47.6" lengthAdjust="spacingAndGlyphs">8,350,740</text>
<text x="654.2" y="548.7" font-size="10.8" fill="#fff" font-weight="bold" text-anchor="end" textLength="39.0" lengthAdjust="spacingAndGlyphs">280,500</text>
<text x="772.7" y="548.7" font-size="10.8" fill="#fff" font-weight="bold" text-anchor="end" textLength="46.3" lengthAdjust="spacingAndGlyphs">8,631,240</text>
<text x="871.4" y="548.7" font-size="10.8" fill="#fff" font-weight="bold" text-anchor="end" textLength="32.8" lengthAdjust="spacingAndGlyphs">30,000</text>
<rect x="283" y="555.9" width="100" height="4.1" rx="2" fill="#b3b3b3"/>
<path d="M27.2 577.3 L118.6 577.3 L113 587.8 L27.2 587.8 Z" fill="url(#orangeG)"/>
<path d="M120.3 577.3 L123.3 577.3 L117.7 587.8 L114.7 587.8 Z" fill="#f2503a"/>
<path d="M124.9 577.3 L127.9 577.3 L122.3 587.8 L119.3 587.8 Z" fill="#f2503a"/>
<path d="M129.5 577.3 L132.5 577.3 L126.9 587.8 L123.9 587.8 Z" fill="#f2503a"/>
<path d="M134.1 577.3 L137.1 577.3 L131.5 587.8 L128.5 587.8 Z" fill="#f2503a"/>
<path d="M138.7 577.3 L141.7 577.3 L136.1 587.8 L133.1 587.8 Z" fill="#f2503a"/>
<path d="M143.3 577.3 L146.3 577.3 L140.7 587.8 L137.7 587.8 Z" fill="#f2503a"/>
<path d="M147.9 577.3 L150.9 577.3 L145.3 587.8 L142.3 587.8 Z" fill="#f2503a"/>
<path d="M152.5 577.3 L155.5 577.3 L149.9 587.8 L146.9 587.8 Z" fill="#f2503a"/>
<path d="M157.1 577.3 L160.1 577.3 L154.5 587.8 L151.5 587.8 Z" fill="#f2503a"/>
<path d="M161.7 577.3 L164.7 577.3 L159.1 587.8 L156.1 587.8 Z" fill="#f2503a"/>
<text x="172.3" y="586.9" font-size="12.3" fill="#111" font-weight="bold" textLength="252.5" lengthAdjust="spacingAndGlyphs" letter-spacing="1.5" stroke="#111" stroke-width="0.35">PROVEN PROJECT CERTAINTY</text>
</svg>
</body></html>
